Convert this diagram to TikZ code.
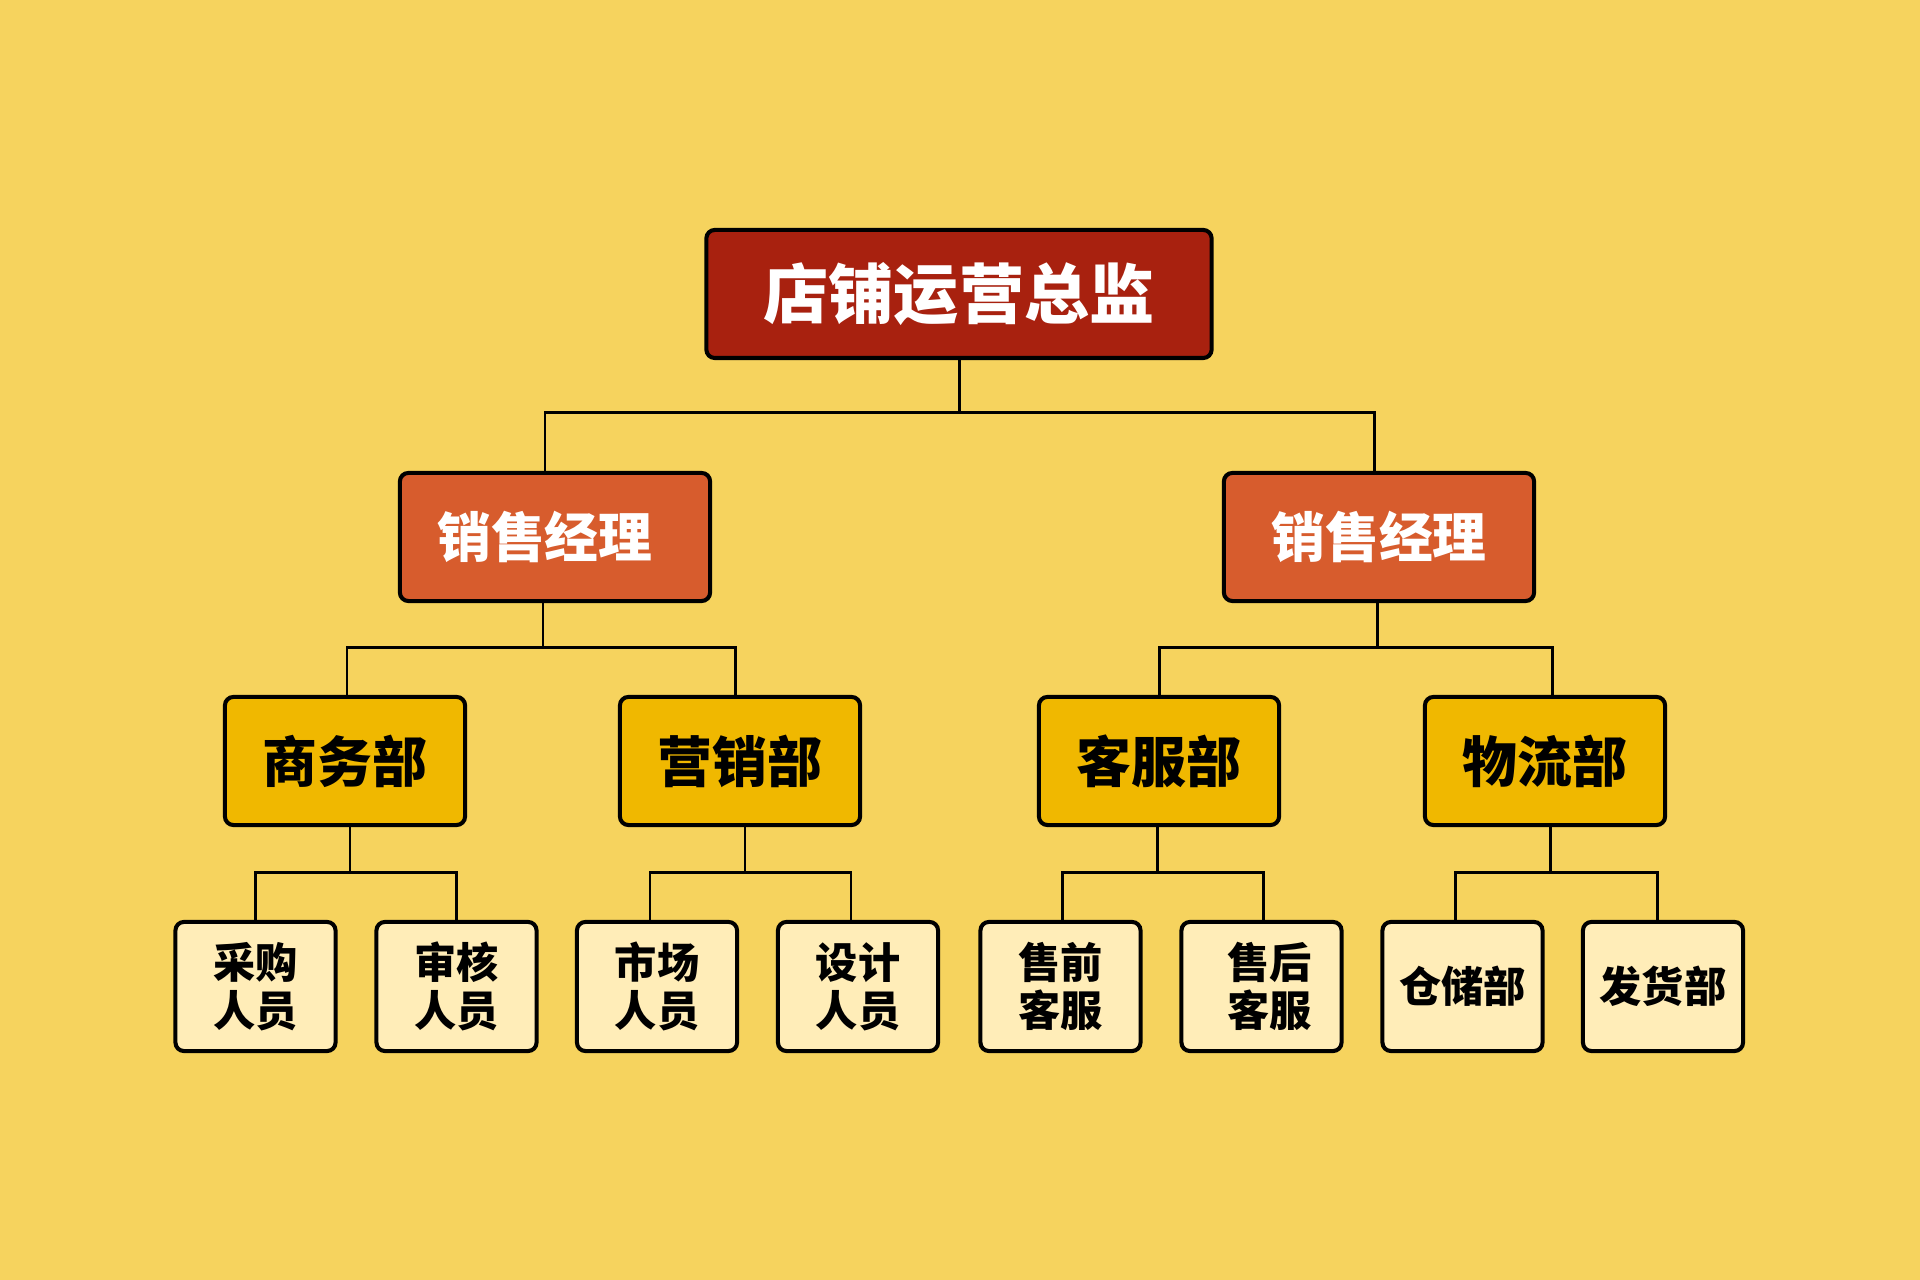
\documentclass[tikz,border=0pt]{standalone}
\usepackage{fontspec}
\newfontfamily\cjk{Noto Sans CJK SC}
\usepackage{tikz}
\usetikzlibrary{positioning}

\definecolor{bgyellow}{RGB}{246,211,94}
\definecolor{headred}{RGB}{168,33,15}
\definecolor{mgrorange}{RGB}{215,92,45}
\definecolor{deptgold}{RGB}{240,184,0}
\definecolor{staffcream}{RGB}{255,237,184}

\tikzset{
  box/.style={draw=black,line width=1.15pt,rounded corners=2.4pt,inner sep=0pt,
    align=center,font=\cjk\bfseries},
  headbox/.style={box,fill=headred,text=white,minimum width=5.05cm,minimum height=1.28cm,
    font=\cjk\bfseries\fontsize{18.5}{20}\selectfont},
  mgrbox/.style={box,fill=mgrorange,text=white,minimum width=3.1cm,minimum height=1.28cm,
    font=\cjk\bfseries\fontsize{15.3}{17}\selectfont},
  deptbox/.style={box,fill=deptgold,minimum width=2.4cm,minimum height=1.28cm,
    font=\cjk\bfseries\fontsize{15.6}{17}\selectfont},
  staffbox/.style={box,fill=staffcream,minimum width=1.6cm,minimum height=1.29cm,
    font=\cjk\bfseries\fontsize{12}{13.7}\selectfont},
  link/.style={draw=black,line width=0.85pt}
}

\begin{document}
\begin{tikzpicture}[x=0.01cm,y=-0.01cm]
  % background
  \fill[bgyellow] (0,0) rectangle (1920,1280);
  \useasboundingbox (0,0) rectangle (1920,1280);

  % top
  \node[headbox] (head) at (959,294) {店铺运营总监};
  % managers
  \node[mgrbox] (mgrL) at (555,537) {销售经理\hspace*{2mm}};
  \node[mgrbox] (mgrR) at (1379,537) {销售经理};
  % departments
  \node[deptbox] (biz) at (345,761) {商务部};
  \node[deptbox] (mkt) at (740,761) {营销部};
  \node[deptbox] (svc) at (1159,761) {客服部};
  \node[deptbox] (logi) at (1545,761) {物流部};
  % staff
  \node[staffbox] (buy)   at (255.5,986.5)  {采购\\人员};
  \node[staffbox] (audit) at (456.5,986.5)  {审核\\人员};
  \node[staffbox] (mkp)   at (657,986.5)    {市场\\人员};
  \node[staffbox] (dsgn)  at (858,986.5)    {设计\\人员};
  \node[staffbox] (pre)   at (1060.5,986.5) {售前\\客服};
  \node[staffbox] (post)  at (1261.5,986.5) {\hspace*{1.6mm}售后\\\hspace*{1.6mm}客服};
  \node[staffbox] (store) at (1462.5,986.5) {仓储部};
  \node[staffbox] (ship)  at (1663,986.5)   {发货部};

  % junctions
  \coordinate (jHead) at (959,413);
  \coordinate (jL) at (543,648);
  \coordinate (jR) at (1377,648);
  \coordinate (jBiz) at (350,873);
  \coordinate (jMkt) at (745,873);
  \coordinate (jSvc) at (1157,873);
  \coordinate (jLogi) at (1550,873);

  % connectors
  \draw[link] (head.south) -- (jHead);
  \draw[link] ([xshift=-1mm]mgrL.north) |- (jHead) -| ([xshift=-0.5mm]mgrR.north);
  \draw[link] (mgrL.south -| jL) -- (jL);
  \draw[link] ([xshift=0.2mm]biz.north) |- (jL) -| ([xshift=-0.45mm]mkt.north);
  \draw[link] (mgrR.south -| jR) -- (jR);
  \draw[link] (svc.north) |- (jR) -| ([xshift=0.7mm]logi.north);
  \draw[link] (biz.south -| jBiz) -- (jBiz);
  \draw[link] (buy.north) |- (jBiz) -| (audit.north);
  \draw[link] (mkt.south -| jMkt) -- (jMkt);
  \draw[link] ([xshift=-0.7mm]mkp.north) |- (jMkt) -| ([xshift=-0.7mm]dsgn.north);
  \draw[link] (svc.south -| jSvc) -- (jSvc);
  \draw[link] ([xshift=0.2mm]pre.north) |- (jSvc) -| ([xshift=0.2mm]post.north);
  \draw[link] (logi.south -| jLogi) -- (jLogi);
  \draw[link] ([xshift=-0.7mm]store.north) |- (jLogi) -| ([xshift=-0.6mm]ship.north);
\end{tikzpicture}
\end{document}
